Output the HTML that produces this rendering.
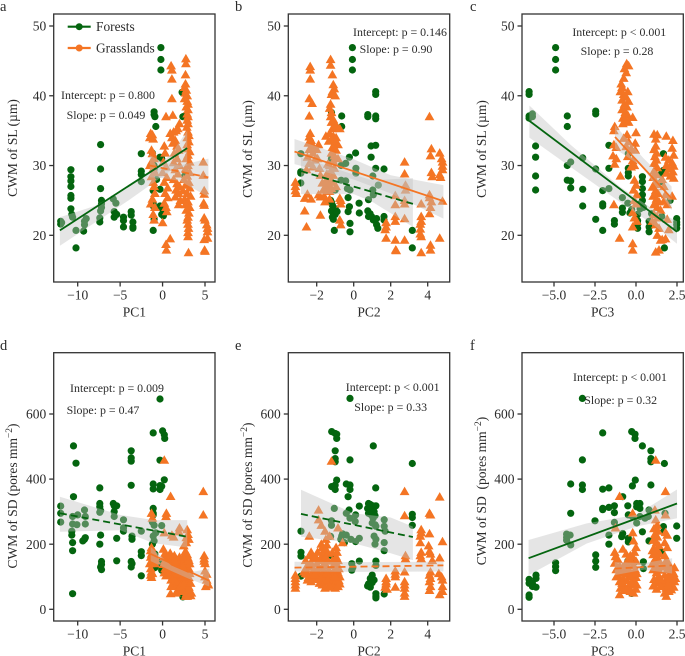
<!DOCTYPE html>
<html>
<head>
<meta charset="utf-8">
<title>CWM of SL and SD against PC axes</title>
<style>
html,body{margin:0;padding:0;background:#fff;width:685px;height:656px;overflow:hidden}
svg{display:block;font-family:"Liberation Serif",serif}
text{fill:#2b2b2b}
</style>
</head>
<body>
<svg id="chart" width="685" height="656" viewBox="0 0 685 656" xmlns="http://www.w3.org/2000/svg"></svg>
<script>
/* ---------- panel a: SL vs PC1 ---------- */
const panelAForests=[[-12,21.6],[-12,22],[-11.9,21.8],[-10.8,29.4],[-10.8,28.4],[-10.8,27.8],[-10.8,27],[-10.8,25.7],[-10.8,25.3],[-10.8,23.8],[-10.7,23],[-10.6,22.6],[-10.2,20.7],[-10.2,18.2],[-9.3,20.6],[-9.2,21.5],[-9.2,22],[-9,22.4],[-7.3,33],[-7.3,29.5],[-7.3,26.7],[-7.2,25],[-7.2,24.5],[-7.2,24],[-7.3,23.5],[-7.4,22.5],[-7.4,21.9],[-5.8,25.2],[-5.5,24.6],[-5.7,23.4],[-5.7,22.6],[-5.4,23],[-4.6,22.6],[-4.6,22.1],[-4.6,21.2],[-3.7,23.4],[-3.7,22.9],[-3.5,21.9],[-3.5,21.2],[-3.5,21],[-2.5,31.7],[-2.5,29.2],[-2.5,28.7],[-2.5,27.7],[-1.2,31.8],[-1,30],[-1,29.5],[-1.1,26.4],[-1.1,24.5],[-1.1,24.2],[-1.1,20.7],[-1,22.3],[-1,37.7],[-1,37.3],[-0.9,37],[-0.8,35.6],[-0.7,28],[-0.2,46.9],[-0.2,45.2],[-0.2,43.7],[-0.3,31.2],[-0.1,31],[-0.3,26.6],[-0.3,24.2],[0,23.8],[-0.1,23],[0.1,22.8],[2.3,40.5],[2.4,40.4],[2.4,37],[2.6,37.1],[2.6,28.5]];
const panelAGrass=[[-1.4,34.6],[-1.2,34.4],[-1.5,34],[-1.1,33.8],[-1.3,32.2],[-1.2,31.7],[-1,31],[-1.3,30.5],[-1.5,30],[-1.1,29.5],[-0.9,29],[-1.3,28.4],[-1.1,27.6],[-1,27],[-0.9,26],[-1.2,25.2],[-1.4,24.5],[-0.9,24],[-1.1,23],[-1,22.2],[0.4,37],[1.2,37.2],[0.2,32.8],[0.3,31.8],[0.1,30.5],[0.4,29.8],[0,29],[0.5,28.3],[0.2,27.6],[0.6,26.8],[0.3,26],[0.6,25.4],[0.2,24.6],[0.4,24],[0.5,23.4],[0,21.8],[1,44.3],[1.1,43.7],[1.1,42.4],[1.1,39.6],[0.9,19.5],[0.4,18.7],[0.45,17.9],[0.9,34.6],[1.3,34.8],[1.6,35],[2,36],[1.8,35.3],[1.1,34],[1.5,33.6],[1.2,33.2],[1.7,32.8],[1.9,32.2],[1.4,31.8],[1.7,31],[1.3,30.4],[2,30],[1.5,29.4],[1.8,28.8],[1.3,28],[1.7,27.4],[2,27],[1.6,26.5],[1.9,26],[1.5,25.5],[2.1,25],[1.9,24.4],[2.75,45.3],[2.75,44.6],[2.7,43],[2.7,41.7],[2.6,41.2],[2.8,40.8],[2.7,40.4],[2.9,40],[2.6,39.6],[2.9,39.2],[3,38.8],[2.8,38.4],[3,38],[2.9,37.4],[3,37],[2.9,36.5],[3,36],[2.85,35.5],[3,34.8],[3.1,34.3],[2.9,34],[3.1,33.4],[2.9,33],[3,32.4],[3.2,32],[3,31.5],[2.8,31],[3.2,30.5],[3,30],[2.7,29.5],[3.2,29],[2.9,28.5],[2.5,28],[3.1,27.6],[2.7,27.2],[3.2,26.8],[2.4,26.4],[2.9,26],[3.3,25.6],[2.6,25.2],[3,24.8],[2.7,24.4],[3.2,24],[2.8,23.6],[3.1,23.2],[3,22.6],[2.9,22.2],[3,21.6],[3.05,21],[3,20.4],[3,19.8],[3.05,17.5],[4.8,30.5],[4.8,28.6],[4.9,26.4],[4.9,25.9],[4.85,24.6],[4.9,24.3],[4.9,22.5],[5,22.2],[5.2,21.5],[5.3,21],[5.3,20.5],[4.9,19.4],[5.3,19.6],[4.95,17.9],[5,17.7]];
const panelAForestFit=[[-12.1,20.7],[2.9,32.5]];
const panelAGrassFit=[[-1.5,30],[5.4,28.3]];
const panelAForestBand=[[-12.1,18.5,22.6],[-8,21.8,24.2],[-4,25,26.9],[-1,27.6,29.3],[1,29.3,31.7],[2.9,30,35]];
const panelAGrassBand=[[-1.5,28.3,31.5],[0,28.2,30.5],[2,27.8,30],[5.4,25.5,31]];

/* ---------- panel b: SL vs PC2 ---------- */
const panelBForests=[[-2.86,31.7],[-2.86,29.1],[-2.86,28.9],[-2.86,27.5],[-1.2,31],[-1.2,37.6],[-0.65,37.1],[-0.65,35.6],[-0.43,30.3],[-0.23,31.2],[0.1,31.8],[0.12,29.6],[0.12,28.9],[-0.68,30],[-0.68,27.9],[-0.43,27.8],[-0.34,26.7],[-0.2,26.5],[-1,26.5],[-0.3,25.4],[0.29,24.6],[0.3,23.2],[-0.23,24.1],[-0.3,23.4],[-0.2,21.7],[-0.2,20.5],[-1.05,20.7],[-0.07,46.9],[-0.07,45.2],[-0.07,43.7],[1.19,40.6],[1.19,40.2],[0.76,37.3],[0.76,37],[1.19,37.1],[1.19,36.7],[0.94,32.8],[1.19,32.9],[0.94,31.2],[1.19,29.6],[1.64,29.5],[1.03,28.5],[1.03,26.5],[1.33,27.2],[1.06,25.8],[0.8,25.1],[0.76,23.5],[0.88,23.1],[0.97,22.7],[1.24,22.4],[1.06,22.2],[1.24,21.5],[1.3,21],[0.8,22.7],[1.64,22.7],[1.64,22.2],[3.17,20.7],[3.17,18.2],[-1.25,25],[-1.2,24.7],[-1.15,24.3],[-1.1,24],[-1,23.8],[-1.2,23.5],[-1.1,23.2],[-1,23],[-1.15,22.6],[-1.1,22.3],[-0.9,23.4]];
const panelBGrass=[[-3.15,27.6],[-3.15,27],[-3.15,26.4],[-3.1,26],[-2.65,23.5],[-2.55,21.2],[-2.65,25.3],[-2.5,25.9],[-2.3,25.2],[-2.35,44.2],[-2.35,43.7],[-2.35,42.4],[-2.4,39.6],[-2.25,38.9],[-2.4,37.1],[-2.35,34.6],[-2.4,34.1],[-2.3,33.6],[-2.45,33.2],[-2.2,32.8],[-2.4,32.3],[-2.2,31.8],[-2.5,31.2],[-2.1,30.8],[-2.4,30.3],[-2.2,29.8],[-2.55,29.4],[-1.9,33],[-2,32.3],[-1.95,31],[-1.85,29.6],[-1.8,28.6],[-1.8,25.5],[-1.8,22.9],[-1.9,25.8],[-1.7,27.5],[-1.65,26.5],[-1.6,25.6],[-1.55,24.8],[-1.5,27],[-1.45,28],[-1.5,34.2],[-1.35,33.5],[-1.4,30.2],[-1.3,26.3],[-1.3,25.2],[-1.25,45.2],[-1.25,44.4],[-1.15,43],[-1.1,41.6],[-1.05,41],[-1.15,40.6],[-1.2,40.2],[-1,40],[-1.25,38.8],[-1.3,38.2],[-1.2,37.6],[-1.25,37],[-1.1,36.6],[-1.2,36.2],[-1,36],[-0.95,35.6],[-0.75,35.3],[-1.15,35.3],[-1.3,34.6],[-1.1,34.2],[-0.95,34],[-1.2,33.6],[-1,33.3],[-0.85,33],[-1.15,32.6],[-0.95,32.2],[-1.2,31.8],[-1.05,31.4],[-0.85,31],[-1.1,30.6],[-1.3,30],[-1.05,29.6],[-1.25,29.2],[-1.45,28.8],[-1.1,28.6],[-1.3,28.2],[-1.5,27.8],[-1.15,27.6],[-1.35,27.2],[-0.95,27],[-1.2,26.7],[-1.4,26.3],[-0.75,25.3],[-0.7,25],[-0.7,24.5],[-0.75,22.2],[-0.7,21.5],[1.75,21.8],[1.75,21.2],[1.7,20.8],[1.75,19.6],[2.25,25.7],[2.25,24.4],[2.25,22.7],[2.25,22],[2.25,19.3],[2.27,17.9],[2.3,17.8],[2.75,30.5],[2.75,28.8],[2.8,27.2],[2.8,26.5],[2.75,25],[2.75,24.5],[2.75,22.4],[2.75,19.3],[3.65,24.5],[3.65,22.7],[3.65,22],[3.6,21.6],[3.6,20.9],[3.6,20.2],[3.65,19.8],[3.65,17.5],[4.1,37],[4.1,25.8],[4.1,25.4],[4.2,24.8],[4.15,24],[4.1,23.1],[4.15,18.6],[4.15,17.9],[4.2,32.4],[4.15,31.4],[4.2,29],[4.25,28.4],[4.65,31.8],[4.75,31],[4.8,30.5],[4.8,29.9],[4.8,29.4],[4.65,28.7],[4.7,28.3],[4.8,24.9],[4.65,19.6]];
const panelBForestFit=[[-2.85,29.2],[3.2,24.5]];
const panelBGrassFit=[[-3.2,32],[4.85,24.9]];
const panelBForestBand=[[-2.85,25.9,31.2],[0,25.9,28.7],[1,24.8,27.9],[3.2,21.2,28.2]];
const panelBGrassBand=[[-3.2,30.2,33.8],[0,28,30.9],[2,26,28.6],[4.85,22.4,27.2]];

/* ---------- panel c: SL vs PC3 ---------- */
const panelCForests=[[-4.9,46.9],[-4.9,45.2],[-4.9,43.7],[-6.52,40.6],[-6.52,40.2],[-6.52,37.1],[-6.52,36.8],[-6.32,37.4],[-6.32,37],[-6.12,32.8],[-6.12,31.2],[-6.12,28.5],[-6.12,26.5],[-4.19,37.1],[-4.19,35.6],[-4.19,30],[-3.98,30.5],[-4.19,27.9],[-3.98,27.8],[-3.98,26.8],[-3.25,31.1],[-3.25,26.6],[-3.25,24.2],[-2.46,37.8],[-2.46,37.4],[-2.46,29.5],[-2.46,22.3],[-2.03,26.4],[-2.03,24.5],[-2.03,24.2],[-2.03,20.7],[-1.65,32.9],[-1.65,29.6],[-1.65,26.7],[-1.32,22.1],[-1.32,21.6],[-0.83,25.4],[-0.83,23.9],[-0.83,23.3],[-0.5,24.6],[-0.47,31.7],[-0.47,29.6],[-0.47,29],[-0.47,28.5],[-0.37,23.2],[-0.26,23.7],[0.39,28.4],[0.39,27.7],[0.39,26.7],[0.39,25.8],[0.39,25],[0.25,24.5],[0.25,23.8],[0.1,23],[0.1,22.1],[0.1,21.6],[0.1,21],[0.35,24.3],[0.45,24],[0.8,22],[0.8,21.2],[0.8,20.5],[0.95,23.1],[1.67,31.7],[1.67,29.3],[1.57,28.9],[1.57,22.7],[1.73,18.2],[2.48,22.4],[2.48,21.9],[2.48,21.5],[2.48,21],[1.57,27.7],[2.08,25]];
const panelCGrass=[[-0.57,44.6],[-0.45,44.3],[-0.7,43.9],[-0.6,43.3],[-0.75,42.5],[-0.9,41.7],[-0.85,41.2],[-0.95,40.6],[-0.5,40.6],[-0.75,40.2],[-0.6,39.8],[-0.85,39.4],[-0.45,39.2],[-0.7,38.8],[-0.55,38.4],[-0.85,38],[-0.65,37.6],[-0.5,37.2],[-0.8,36.8],[-0.6,36.4],[-0.45,36.2],[-0.8,36],[-1.3,35.6],[-1.35,35],[-0.2,36.9],[0,34.7],[-0.55,34.4],[-0.75,33.9],[-0.45,33.4],[-1.35,33],[-1.2,32.6],[-0.05,33.2],[-0.05,32.2],[-0.6,32.7],[-0.3,32.4],[-1.4,31.4],[-1.2,31],[-0.5,31.3],[-0.2,30.7],[-1.3,30.2],[-0.1,30],[-0.3,29.8],[-0.95,28.5],[-1.35,24.4],[-0.1,27.9],[0,27.2],[-0.15,26.5],[0.05,25.8],[-0.1,25],[0,24.5],[-0.2,23.3],[-0.1,22.5],[0.05,22],[-0.2,21.2],[-1,19.6],[-0.2,18.8],[-0.2,17.9],[1.1,34.5],[1.3,34.4],[1.2,33.8],[1.2,32.8],[1.1,32.3],[1.25,31.8],[1.15,31.3],[1.25,30.8],[1.1,30.3],[1.3,29.7],[1.1,29.2],[1.25,28.7],[1.05,28.3],[1.2,27.7],[1.3,27.3],[1,26.9],[1.2,26.4],[1.35,26],[1.05,25.6],[1.25,25.2],[1.4,24.8],[1.1,24.4],[1.3,24],[1.5,23.6],[1.1,23],[1.3,22.5],[1,22],[1.2,21.5],[1.4,21],[1.3,20],[1.5,19.3],[1.2,17.6],[1.4,17.9],[1.85,34.2],[2.25,33.6],[2.2,32.5],[2.3,31.5],[1.8,31.2],[2,30.8],[2.2,30.4],[1.85,30],[2.3,29.9],[2.05,29.5],[2.25,29.1],[1.85,28.9],[2.1,28.5],[2.3,28.2],[1.6,28],[1.7,27],[2.2,25.6],[1.8,25.8],[1.9,24.4],[1.7,24.9],[1.9,22.3],[1.8,19.5],[1.6,19.4],[2,20.8]];
const panelCForestFit=[[-6.5,36.4],[2.5,20.5]];
const panelCGrassFit=[[-1.28,34.1],[2.17,25.3]];
const panelCForestBand=[[-6.5,34,38.6],[-4,29.8,33],[-1,24.8,27],[1,21.6,23.8],[2.5,18.8,22]];
const panelCGrassBand=[[-1.28,32.4,35.8],[0.4,29.8,31.2],[2.17,23.6,27]];

/* ---------- panel d: SD vs PC1 ---------- */
const panelDForests=[[-12,317],[-12,295],[-12,268],[-10.5,502],[-10.5,346],[-10.2,449],[-10.7,240],[-10.7,228],[-10.6,205],[-10.6,180],[-10.6,48],[-10.6,285],[-10.6,262],[-10,290],[-10.1,260],[-9.2,305],[-9.1,285],[-9.1,262],[-9.2,215],[-9.1,220],[-9.4,210],[-7.4,373],[-7.4,325],[-7.4,315],[-7.4,298],[-7.3,303],[-7.3,228],[-7.4,200],[-7.2,147],[-7.2,138],[-7.3,130],[-7.2,122],[-5.8,325],[-5.7,318],[-5.7,300],[-5.4,318],[-5.7,285],[-5.4,218],[-5.4,149],[-4.6,275],[-4.6,250],[-4.6,240],[-3.7,487],[-3.7,465],[-3.7,455],[-3.7,381],[-3.6,225],[-3.6,215],[-3.7,147],[-3.6,140],[-3.7,130],[-2.5,240],[-2.5,177],[-2.5,165],[-2.5,103],[-1.1,542],[-0.3,646],[0,548],[0.2,536],[0.25,525],[-0.3,458],[0.2,398],[-1.1,385],[-1.1,370],[-0.3,380],[-0.1,378],[-0.3,368],[-1.1,310],[-1.1,295],[-1.1,290],[-1.2,268],[-1,258],[-0.8,235],[-1.1,225],[-1,210],[-1.2,200],[-0.9,170],[-1.3,135],[-1.1,130],[-0.9,128],[-0.1,257],[-0.2,145],[-0.1,130],[-0.1,120],[2.3,90],[2.4,45],[2.4,38],[2.2,92]];
const panelDGrass=[[0.2,458],[4.8,362],[4.8,290],[0.95,347],[0.45,295],[0.4,285],[-1.3,295],[-1.2,280],[2,250],[1.9,238],[2.9,245],[3,230],[3.1,215],[2.8,220],[2.8,205],[1.1,228],[1.3,222],[0.2,235],[-1.3,190],[-1.4,180],[-1.3,170],[-1.4,160],[-1.3,150],[-1.5,140],[-1.4,125],[-1.3,115],[-1.4,105],[-1.3,98],[-0.9,160],[-0.8,150],[-0.9,140],[0.1,185],[0.3,172],[0.2,160],[0.3,150],[0.1,138],[0.3,125],[0.2,112],[0.4,103],[0.9,172],[0.8,160],[1,152],[0.8,142],[1.1,135],[0.9,125],[1,115],[0.8,108],[1.2,100],[1,90],[1.2,80],[0.95,48],[1.4,165],[1.5,155],[1.3,145],[1.6,135],[1.4,128],[1.7,118],[1.4,108],[1.7,100],[1.5,92],[1.7,80],[1.5,72],[2,160],[2.1,150],[1.9,140],[2.2,132],[1.9,122],[2.2,112],[2,105],[2.3,98],[2,85],[2.2,76],[2,65],[2.3,55],[2.5,195],[2.7,178],[2.9,168],[3,158],[2.6,150],[3,140],[2.6,132],[3.1,125],[2.7,118],[3.2,110],[2.8,105],[3.1,97],[2.7,90],[3.2,82],[2.8,75],[3.1,68],[2.7,62],[3.2,55],[2.8,48],[3.3,42],[2.9,40],[4.9,165],[4.9,155],[4.9,148],[5,140],[5,118],[5.2,108],[5,100],[5.2,90],[5.3,80],[5.4,75],[5.1,70],[0.5,140],[0.6,125],[0.6,105],[1,70],[1.3,95],[1.5,145],[1.8,110],[1.8,60],[1.6,50],[2.1,70],[2.4,160],[2.4,130],[2.4,100],[2.5,75],[2.5,55],[2.6,110],[3,60],[3.1,150],[3.2,140],[3.3,80],[3.4,50],[2.7,40],[-1.1,175],[-1.2,110]];
const panelDForestFit=[[-12.1,295],[2.9,223]];
const panelDGrassFit=[[-1.4,170],[5.5,88]];
const panelDForestBand=[[-12.1,238,346],[-5,243,290],[-1,203,274],[2.9,190,274]];
const panelDGrassBand=[[-1.4,148,192],[1,118,135],[3,95,112],[5.5,70,125]];

/* ---------- panel e: SD vs PC2 ---------- */
const panelEForests=[[-1.19,546],[-1,540],[-0.92,538],[-0.92,525],[-0.2,648],[-1,487],[-1,463],[-1,453],[-0.2,459],[-0.4,385],[-0.2,382],[-0.2,368],[-0.3,346],[-0.92,397],[-1.19,377],[-1,382],[-1,368],[1.06,502],[3.17,448],[1.19,373],[0.3,317],[-0.25,305],[-1.05,310],[0.1,290],[-0.4,295],[-0.2,280],[0.08,270],[-1.2,272],[-1.2,258],[-1.25,224],[-2.85,240],[0.3,218],[0.1,208],[-0.15,215],[-0.4,228],[-0.6,232],[-0.7,215],[-0.5,205],[-0.65,225],[0.8,325],[0.9,322],[1.05,318],[1.2,318],[0.75,310],[0.95,305],[1.1,300],[0.8,295],[0.95,290],[1.15,288],[1.05,280],[1,265],[1.15,260],[1.2,255],[1.1,225],[1.2,215],[1.15,200],[1.65,275],[1.65,255],[1.7,240],[1.65,205],[1.65,180],[3.17,292],[3.17,282],[3.17,258],[-2.85,175],[-2.85,163],[-2.85,102],[-1.2,165],[-1.05,150],[-0.1,140],[-0.05,128],[-0.1,120],[0.3,148],[1.2,148],[1.2,135],[1,105],[0.9,95],[1.1,90],[0.8,78],[0.75,72],[0.9,68],[1,82],[1.2,48],[1.2,40],[1.2,35],[1.65,47]];
const panelEGrass=[[-1.2,455],[-1.9,305],[-1.9,275],[-1.75,258],[-1.55,240],[-1.3,225],[-2.4,225],[-0.85,250],[-0.6,205],[-3.15,105],[-3.15,95],[-3.15,85],[-3.15,75],[-3.15,65],[-2.7,115],[-2.6,150],[-2.5,135],[-2.6,125],[-2.5,108],[-2.45,98],[-2.3,175],[-2.4,165],[-2.2,155],[-2.3,142],[-2.25,130],[-2.2,118],[-2.3,105],[-2.15,95],[-1.9,130],[-1.95,118],[-1.85,105],[-1.9,92],[-1.85,80],[-1.75,200],[-1.7,190],[-1.65,178],[-1.7,165],[-1.65,152],[-1.6,140],[-1.7,128],[-1.65,115],[-1.6,102],[-1.5,215],[-1.45,198],[-1.5,185],[-1.4,172],[-1.5,160],[-1.4,148],[-1.5,135],[-1.35,122],[-1.3,110],[-1.35,98],[-1.25,88],[-1.3,78],[-1.2,68],[-1.05,120],[-1,108],[-1.1,98],[-1,86],[-1.05,75],[-1,65],[-0.95,190],[-0.9,175],[-0.95,162],[-0.85,150],[-0.9,138],[-0.8,125],[-0.85,112],[-0.75,100],[-0.8,88],[-0.75,78],[2.75,362],[2.75,288],[2.8,165],[2.8,155],[2.75,115],[2.75,85],[2.75,75],[2.75,65],[2.75,50],[2.75,40],[1.75,95],[1.75,85],[1.75,78],[1.7,68],[1.8,62],[2.25,118],[2.25,108],[2.25,100],[2.25,68],[3.65,245],[3.65,235],[3.6,225],[3.6,205],[3.65,175],[3.6,165],[3.65,155],[4.1,295],[4.15,290],[4.1,232],[4.05,195],[4.1,178],[4.15,170],[4.25,150],[4.15,115],[4.1,105],[4.15,95],[4.1,85],[4.15,70],[4.1,58],[4.65,345],[4.8,208],[4.65,158],[4.6,110],[4.75,100],[4.8,90],[4.8,70],[4.8,55],[4.65,45],[-2.6,110],[-2.5,90],[-2.3,85],[-2.1,105],[-2,140],[-2.05,160],[-1.95,175],[-1.85,150],[-1.75,95],[-1.7,75],[-1.55,85],[-1.55,65],[-1.45,110],[-1.4,90],[-1.3,70],[-1.15,150],[-1.1,135],[-1.15,175],[-1,100],[-1,150],[-0.9,120],[-0.85,70]];
const panelEForestFit=[[-2.85,293],[3.2,222]];
const panelEGrassFit=[[-3.2,128],[4.85,135]];
const panelEForestBand=[[-2.85,223,367],[0,203,295],[2,172,282],[3.2,151,254]];
const panelEGrassBand=[[-3.2,116,146],[0.5,115,145],[4.85,116,146]];

/* ---------- panel f: SD vs PC3 ---------- */
const panelFForests=[[-3.27,648],[-2.03,542],[-0.26,546],[-0.06,538],[-0.06,525],[0.39,502],[0.91,487],[0.91,463],[0.91,453],[1.73,448],[-3.27,459],[-3.98,385],[-3.27,382],[-3.27,368],[-2.03,369],[-1.65,373],[-0.04,397],[-0.22,379],[0.91,382],[-3.98,295],[-2.5,272],[-2.03,310],[-2.03,306],[-1.65,313],[-1.32,318],[-1.32,297],[-1.32,267],[-1.65,228],[-1.65,200],[-0.81,346],[-0.5,318],[0.04,325],[0.24,325],[0.04,315],[0.24,310],[-0.47,290],[-0.22,285],[0.24,285],[0.04,265],[0.55,280],[0.75,285],[0.79,305],[0.39,238],[0.79,210],[1.67,254],[1.67,238],[1.77,295],[2.48,256],[2.48,218],[-0.81,233],[-0.87,223],[-0.47,218],[-0.47,207],[1.56,177],[-6.52,92],[-6.52,80],[-6.1,105],[-6.1,95],[-6.32,80],[-6.32,70],[-6.1,68],[-6.52,44],[-6.52,37],[-4.9,143],[-4.9,131],[-4.9,119],[-4.23,231],[-4.23,221],[-4.02,228],[-4.23,212],[-3.98,198],[-2.46,167],[-2.46,148],[-2.46,129],[-0.5,148],[-0.06,146],[0.45,146],[0.45,125],[-0.26,49]];
const panelFGrass=[[1.2,458],[-1,347],[1.8,362],[-0.2,295],[1.15,305],[1.8,290],[1.2,275],[-1.25,250],[1.3,258],[1.1,248],[1.35,240],[1.15,230],[1.3,222],[1.05,212],[1.25,205],[1.4,195],[1.1,188],[1.3,178],[1.05,168],[1.25,160],[1.4,150],[1.1,142],[1.3,132],[1.05,122],[1.25,112],[1.4,102],[1.1,92],[1.3,82],[1.05,72],[1.25,62],[-0.2,235],[-0.15,210],[0,190],[-0.1,175],[-0.2,160],[0,148],[-0.15,135],[-0.05,122],[-0.2,110],[0,98],[-0.1,86],[-0.2,75],[0,62],[-0.15,50],[-0.8,185],[-1.3,175],[-1.25,162],[-1.1,152],[-1.3,142],[-1,132],[-1.2,122],[-0.9,112],[-1.1,103],[-0.8,95],[-1,85],[-0.75,75],[-0.95,65],[-0.7,58],[-1,45],[-0.6,170],[-0.55,148],[-0.65,128],[-0.5,108],[-0.55,88],[-0.45,70],[-0.6,60],[1.8,236],[1.9,228],[1.75,205],[1.9,190],[1.75,165],[1.85,150],[1.7,135],[1.9,122],[1.75,105],[1.85,90],[1.7,78],[1.85,65],[1.75,50],[1.85,40],[2.1,125],[2.2,115],[2.05,105],[2.3,100],[2.15,90],[2.35,85],[2.1,75],[2.3,68],[2.2,118],[2.35,128],[2.15,60],[1,180],[1.2,150],[1,140],[1.4,120],[1.5,130],[1.5,90],[1.5,70],[1.45,170],[-0.8,130],[-0.6,140],[-0.7,115],[-0.4,120],[-0.3,100],[-0.3,80],[-0.35,55],[-0.85,80],[-1.2,100],[0.05,110],[0.05,75],[-0.3,145],[-0.35,165],[1.95,100],[1.95,75],[2,140],[2.1,95],[2,55],[2.3,110],[2.4,95]];
const panelFForestFit=[[-6.55,157],[2.5,325]];
const panelFGrassFit=[[-1.3,125],[2.2,135]];
const panelFForestBand=[[-6.55,105,213],[-3,202,264],[0,254,290],[2.5,280,368]];
const panelFGrassBand=[[-1.3,105,145],[0.5,122,142],[2.2,110,157]];

/* ---------- shared tick labels and text ---------- */
const slTicks=[20,30,40,50];
const sdTicks=[0,200,400,600];
const pc1Ticks=[-10,-5,0,5];
const pc2Ticks=[-2,0,2,4];
const pc3Ticks=[-5,-2.5,0,2.5];

const FOREST='#04650f';
const GRASS='#f47524';
const NS='http://www.w3.org/2000/svg';
const root=document.getElementById('chart');

function add(parent,tag,attrs,text){
  const el=document.createElementNS(NS,tag);
  for(const k in attrs){el.setAttribute(k,attrs[k]);}
  if(text!==undefined){el.textContent=text;}
  parent.appendChild(el);
  return el;
}
function linearAxis(d0,p0,d1,p1){
  return v=>p0+(v-d0)*(p1-p0)/(d1-d0);
}
function fmtTick(v,dec){
  const s=Math.abs(v).toFixed(dec);
  return (v<0?'\u2212':'')+s;
}

const panels=[
 {key:'a',letter:'a',lx:0,ly:11,box:[53.7,14,215,282],xa:[-10,77.7,5,205],ya:[20,235.3,50,26],xt:pc1Ticks,yt:slTicks,dec:0,xl:'PC1',yl:'SL',yx:17,yc:148,
  f:panelAForests,g:panelAGrass,ff:panelAForestFit,gf:panelAGrassFit,fb:panelAForestBand,gb:panelAGrassBand,fd:false,gd:true,
  n1:['Intercept: p = 0.800',108,99],n2:['Slope: p = 0.049',106,119]},
 {key:'b',letter:'b',lx:235,ly:11,box:[288.3,14,449.7,282],xa:[-2,316.7,4,427.7],ya:[20,235.3,50,26],xt:pc2Ticks,yt:slTicks,dec:0,xl:'PC2',yl:'SL',yx:252,yc:149,
  f:panelBForests,g:panelBGrass,ff:panelBForestFit,gf:panelBGrassFit,fb:panelBForestBand,gb:panelBGrassBand,fd:true,gd:false,
  n1:['Intercept: p = 0.146',400,36],n2:['Slope: p = 0.90',396,53]},
 {key:'c',letter:'c',lx:470,ly:11,box:[522,14,683.3,282],xa:[-5,554,2.5,677],ya:[20,235.3,50,26],xt:pc3Ticks,yt:slTicks,dec:1,xl:'PC3',yl:'SL',yx:486,yc:149,
  f:panelCForests,g:panelCGrass,ff:panelCForestFit,gf:panelCGrassFit,fb:panelCForestBand,gb:panelCGrassBand,fd:false,gd:false,
  n1:['Intercept: p < 0.001',619.3,36],n2:['Slope: p = 0.28',617,55]},
 {key:'d',letter:'d',lx:0,ly:350,box:[53.7,352.7,215,621],xa:[-10,77.7,5,205],ya:[0,609.3,600,414],xt:pc1Ticks,yt:sdTicks,dec:0,xl:'PC1',yl:'SD',yx:17,yc:496,sp:' ',
  f:panelDForests,g:panelDGrass,ff:panelDForestFit,gf:panelDGrassFit,fb:panelDForestBand,gb:panelDGrassBand,fd:true,gd:false,
  n1:['Intercept: p = 0.009',117,392],n2:['Slope: p = 0.47',103,414]},
 {key:'e',letter:'e',lx:235,ly:350,box:[288.3,352.7,449.7,621],xa:[-2,316.7,4,427.7],ya:[0,609.3,600,414],xt:pc2Ticks,yt:sdTicks,dec:0,xl:'PC2',yl:'SD',yx:252,yc:495,sp:' ',
  f:panelEForests,g:panelEGrass,ff:panelEForestFit,gf:panelEGrassFit,fb:panelEForestBand,gb:panelEGrassBand,fd:true,gd:true,
  n1:['Intercept: p < 0.001',392.7,391],n2:['Slope: p = 0.33',390.7,411]},
 {key:'f',letter:'f',lx:470,ly:350,box:[522,352.7,683.3,621],xa:[-5,554,2.5,677],ya:[0,609.3,600,414],xt:pc3Ticks,yt:sdTicks,dec:1,xl:'PC3',yl:'SD',yx:486,yc:491,sp:'\u00a0\u00a0',
  f:panelFForests,g:panelFGrass,ff:panelFForestFit,gf:panelFGrassFit,fb:panelFForestBand,gb:panelFGrassBand,fd:false,gd:true,
  n1:['Intercept: p < 0.001',620,381],n2:['Slope: p = 0.32',620.7,404]}
];

function drawBand(g,band,x,y,name){
  const top=band.map(r=>x(r[0]).toFixed(1)+','+y(r[2]).toFixed(1));
  const bot=band.slice().reverse().map(r=>x(r[0]).toFixed(1)+','+y(r[1]).toFixed(1));
  const el=add(g,'polygon',{points:top.concat(bot).join(' '),fill:'#c0c0c0','fill-opacity':0.42});
  
  
}
function drawFit(g,fit,x,y,color,dashed,name){
  const attrs={x1:x(fit[0][0]),y1:y(fit[0][1]),x2:x(fit[1][0]),y2:y(fit[1][1]),stroke:color,'stroke-width':1.8};
  if(dashed){attrs['stroke-dasharray']='7 4';}
  const el=add(g,'line',attrs);
  
  
}

panels.forEach(p=>{
  const x=linearAxis(p.xa[0],p.xa[1],p.xa[2],p.xa[3]);
  const y=linearAxis(p.ya[0],p.ya[1],p.ya[2],p.ya[3]);
  const [L,T,R,B]=p.box;
  const g=add(root,'g',{});
  
  

  const letter=add(g,'text',{x:p.lx,y:p.ly,'font-size':14.5,fill:'#111'},p.letter);
  
  

  const clipId='clip-'+p.key;
  const defs=add(g,'defs',{});
  const clip=add(defs,'clipPath',{id:clipId});
  add(clip,'rect',{x:L,y:T,width:R-L,height:B-T});
  const plot=add(g,'g',{'clip-path':'url(#'+clipId+')'});
  
  

  p.f.forEach(d=>{
    const c=add(plot,'circle',{cx:x(d[0]).toFixed(1),cy:y(d[1]).toFixed(1),r:3.6,fill:FOREST});
    
    
  });
  p.g.forEach(d=>{
    const px=x(d[0]),py=y(d[1]);
    const pts=[[px,py-4.9],[px+4.9,py+3.6],[px-4.9,py+3.6]].map(q=>q[0].toFixed(1)+','+q[1].toFixed(1)).join(' ');
    const t=add(plot,'polygon',{points:pts,fill:GRASS});
    
    
  });
  drawBand(plot,p.fb,x,y,'forest-confidence-band');
  drawBand(plot,p.gb,x,y,'grassland-confidence-band');
  drawFit(plot,p.ff,x,y,FOREST,p.fd,'forest-fit-line');
  drawFit(plot,p.gf,x,y,GRASS,p.gd,'grassland-fit-line');

  const frame=add(g,'rect',{x:L,y:T,width:R-L,height:B-T,fill:'none',stroke:'#333','stroke-width':1.3});
  
  

  p.xt.forEach(v=>{
    const tk=add(g,'line',{x1:x(v),x2:x(v),y1:B,y2:B+4.5,stroke:'#333','stroke-width':1.3});
    
    
    const lb=add(g,'text',{x:x(v),y:B+17.5,'text-anchor':'middle','font-size':13.5},fmtTick(v,p.dec));
    
    
  });
  p.yt.forEach(v=>{
    const tk=add(g,'line',{x1:L-4.5,x2:L,y1:y(v),y2:y(v),stroke:'#333','stroke-width':1.3});
    
    
    const lb=add(g,'text',{x:L-7.5,y:y(v)+4.6,'text-anchor':'end','font-size':13.5},String(v));
    
    
  });

  const xt=add(g,'text',{x:(L+R)/2,y:B+34.5,'text-anchor':'middle','font-size':13.5},p.xl);
  
  

  const cy=p.yc;
  const yt=add(g,'text',{x:p.yx,y:cy,'text-anchor':'middle','font-size':13.5,transform:'rotate(-90 '+p.yx+' '+cy+')'});
  
  
  if(p.yl==='SL'){
    yt.textContent='CWM of SL (\u00b5m)';
  }else{
    add(yt,'tspan',{},'CWM of SD'+p.sp+'(pores mm');
    add(yt,'tspan',{'font-size':9.5,dy:-5},'\u22122');
    add(yt,'tspan',{dy:5},')');
  }

  [p.n1,p.n2].forEach(n=>{
    const tx=add(g,'text',{x:n[1],y:n[2],'text-anchor':'middle','font-size':11.9},n[0]);
    
    
  });
});

const legendEntries=[['Forests',FOREST,26.7],['Grasslands',GRASS,48]];
const legend=add(root,'g',{});


legendEntries.forEach(e=>{
  const row=add(legend,'g',{});
  
  
  add(row,'line',{x1:67.7,x2:90.7,y1:e[2],y2:e[2],stroke:e[1],'stroke-width':2.2});
  add(row,'circle',{cx:79.2,cy:e[2],r:3.5,fill:e[1]});
  add(row,'text',{x:96,y:e[2]+4.4,'font-size':13.4},e[0]);
});
</script>
</body>
</html>
